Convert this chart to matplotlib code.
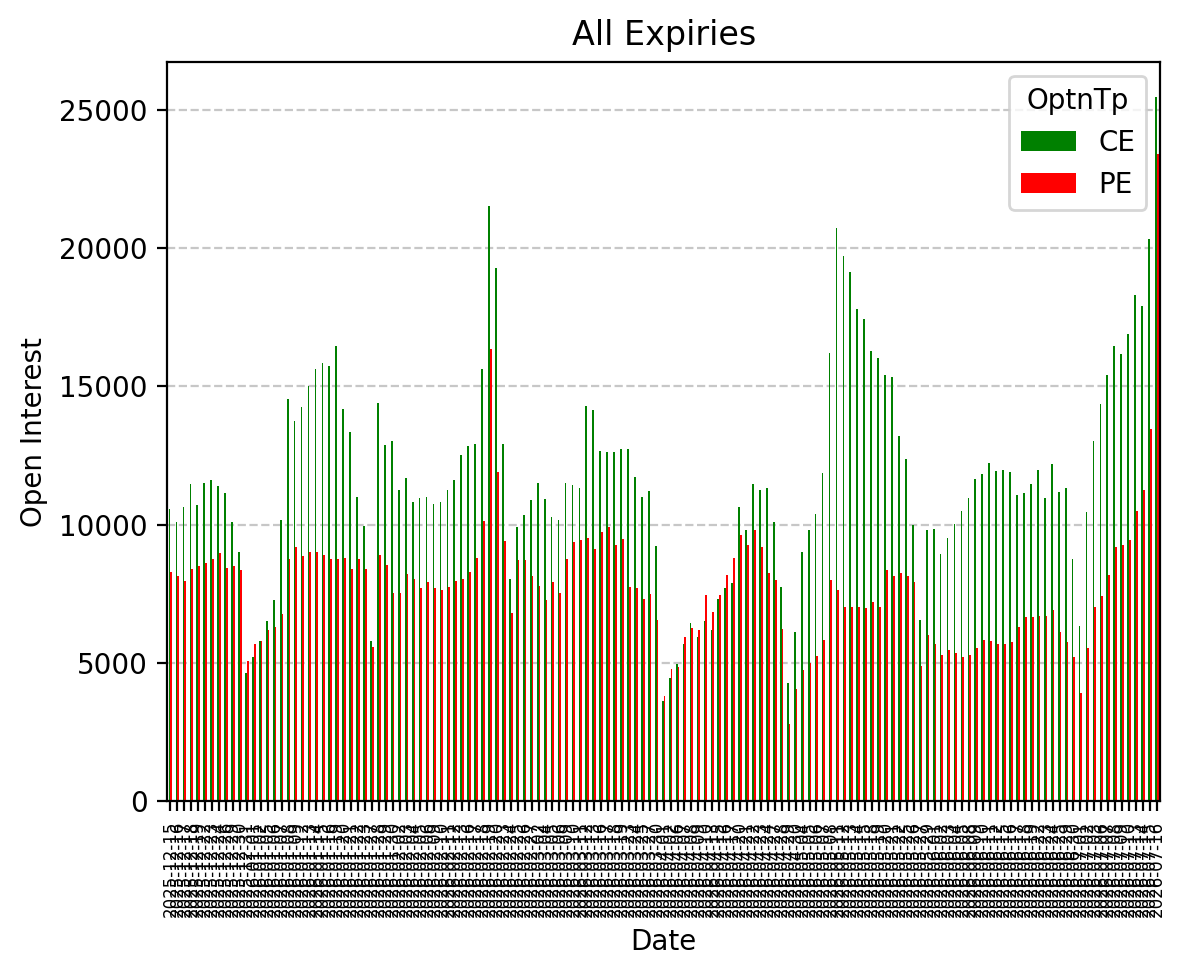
#!/usr/bin/env python3
"""
Open interest per trading day, calls vs puts, across all expiries.
"""

import matplotlib
matplotlib.use('Agg')
import matplotlib.pyplot as plt
import pandas as pd

# NSE trading holidays inside the window (dates are weekdays minus these)
holidays = [
    '2025-12-25', '2026-01-26', '2026-03-03', '2026-03-20', '2026-03-26',
    '2026-03-31', '2026-04-03', '2026-04-14', '2026-05-01', '2026-05-28',
    '2026-06-26',
]
start_date = '2025-12-15'
end_date = '2026-07-16'

ce_oi = [
    10560, 10090, 10630, 11455, 10700, 11490, 11605, 11390, 11135, 10090,
    9030, 4650, 5205, 5810, 6500, 7295, 10160, 14540, 13745, 14250,
    15010, 15615, 15835, 15735, 16460, 14200, 13340, 11015, 9940, 5780,
    14385, 12870, 13020, 11270, 11675, 10815, 10950, 10985, 10765, 10815,
    11270, 11605, 12515, 12835, 12905, 15615, 21510, 19270, 12905, 8050,
    9905, 10345, 10885, 11490, 10915, 10295, 10160, 11490, 11420, 11320,
    14285, 14135, 12650, 12620, 12620, 12720, 12720, 11740, 11015, 11235,
    9215, 3640, 4445, 4955, 5675, 6435, 5930, 6505, 6180, 7330,
    7700, 7885, 10630, 9790, 11455, 11270, 11320, 10090, 7765, 4260,
    6130, 8995, 9790, 10375, 11860, 16205, 20720, 19710, 19135, 17790,
    17435, 16275, 16020, 15395, 15330, 13190, 12365, 9975, 6570, 9790,
    9840, 8930, 9535, 10040, 10480, 10950, 11640, 11825, 12215, 11925,
    11960, 11895, 11085, 11150, 11455, 11995, 10950, 12180, 11170, 11320,
    8775, 6350, 10445, 13040, 14355, 15395, 16460, 16155, 16880, 18295,
    17905, 20315, 25455,
]
pe_oi = [
    8305, 8135, 7950, 8390, 8490, 8610, 8745, 8960, 8425, 8490,
    8355, 5055, 5675, 5810, 6180, 6285, 6755, 8745, 9180, 8860,
    8995, 9030, 8895, 8745, 8775, 8810, 8390, 8775, 8390, 5595,
    8895, 8560, 7515, 7545, 8205, 8050, 7700, 7920, 7700, 7630,
    7765, 7950, 8020, 8305, 8810, 10125, 16340, 11895, 9400, 6790,
    8710, 8710, 8135, 7800, 7260, 7920, 7515, 8745, 9365, 9435,
    9535, 9115, 9720, 9905, 9280, 9500, 7730, 7700, 7330, 7480,
    6570, 3790, 4765, 4870, 5930, 6250, 6180, 7445, 6855, 7445,
    8170, 8810, 9620, 9280, 9790, 9180, 8270, 7985, 6215, 2780,
    4075, 4735, 4985, 5240, 5845, 7985, 7630, 7040, 7040, 7010,
    6975, 7195, 7040, 8355, 8135, 8270, 8135, 7920, 4900, 5995,
    5675, 5305, 5460, 5375, 5205, 5275, 5525, 5845, 5780, 5675,
    5675, 5745, 6285, 6655, 6655, 6690, 6690, 6905, 6130, 5745,
    5205, 3925, 5560, 7040, 7410, 8170, 9180, 9250, 9435, 10480,
    11270, 13445, 23415,
]

dates = pd.bdate_range(start_date, end_date, freq='C', holidays=holidays)
date_labels = [d.strftime('%Y-%m-%d') for d in dates]

df = pd.DataFrame({'CE': ce_oi, 'PE': pe_oi}, index=date_labels)
df.index.name = 'Date'
df.columns.name = 'OptnTp'

fig, ax = plt.subplots(figsize=(5.92, 4.88), dpi=200)
fig.subplots_adjust(left=0.141, right=0.980, top=0.9365, bottom=0.179)

df.plot(kind='bar', ax=ax, color=['green', 'red'])

ax.set_title('All Expiries')
ax.set_xlabel('Date')
ax.set_ylabel('Open Interest')
# the dates are packed tight, labels overlap just like the source chart
ax.tick_params(axis='x', labelsize=6, rotation=90)
ax.grid(axis='y', linestyle='--', alpha=0.7)
ax.set_axisbelow(True)
ax.legend(title='OptnTp', loc='upper right')

plt.savefig('out.png', dpi=200)
